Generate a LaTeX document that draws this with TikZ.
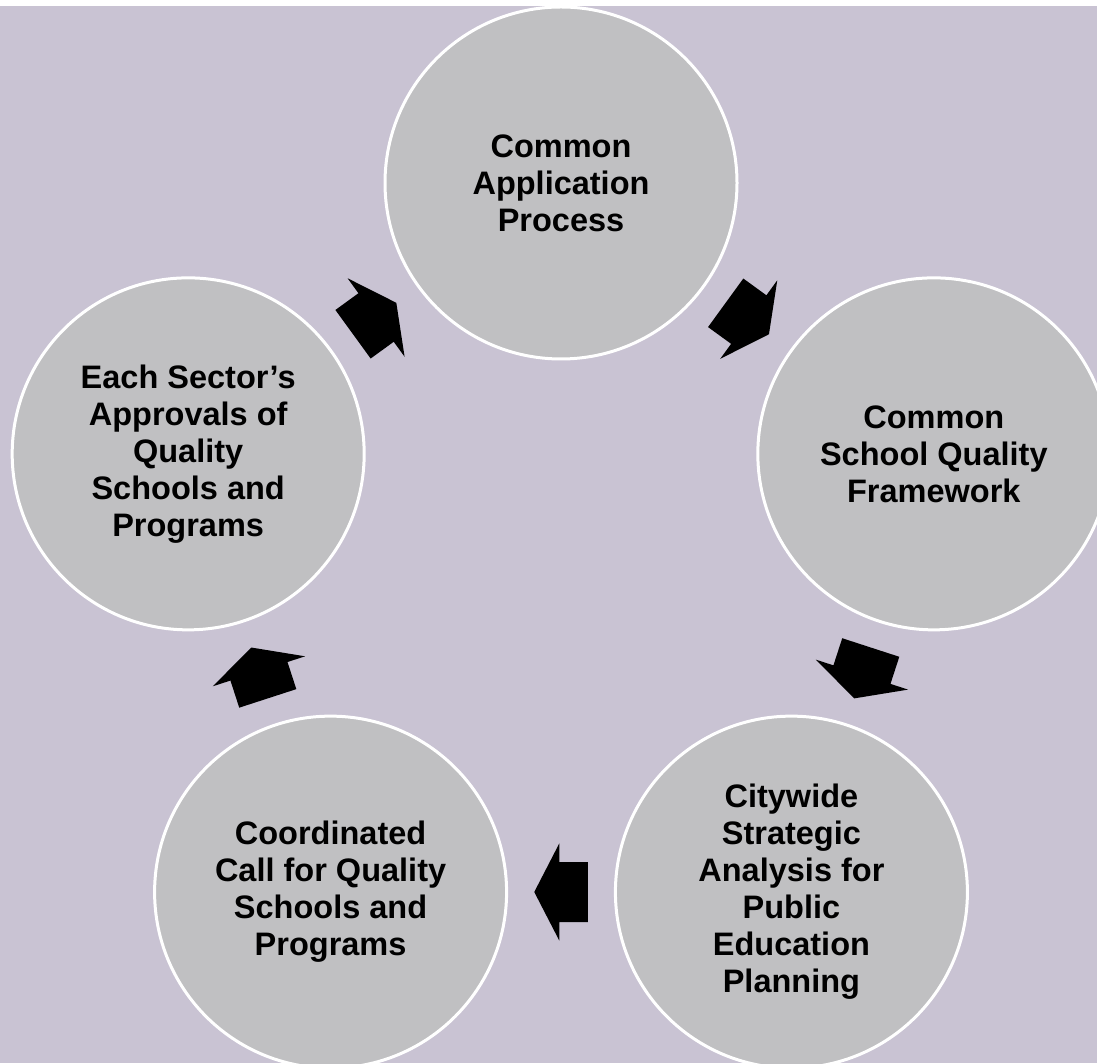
\documentclass[tikz,border=0pt]{standalone}
\usepackage{fontspec}
\setmainfont{Liberation Sans}
\definecolor{bgcol}{RGB}{201,195,211}
\definecolor{discfill}{RGB}{192,192,194}
\tikzset{
  stage/.style={circle, minimum size=352pt, inner sep=0pt, fill=discfill,
    draw=white, line width=3pt, align=center, text=black,
    font=\bfseries\fontsize{32.5}{37}\selectfont},
  cyclearrow/.pic={
    \fill[black] (-26.75,-30) -- (1.75,-30) -- (1.75,-48.5) -- (26.75,0)
      -- (1.75,48.5) -- (1.75,30) -- (-26.75,30) -- cycle;
  }
}
\begin{document}
\begin{tikzpicture}[x=1pt,y=1pt]
  \useasboundingbox (0,0) rectangle (1097,1063);
  \clip (0,0) rectangle (1097,1063);
  % page background with a thin white band along the top
  \fill[white] (0,0) rectangle (1097,1063);
  \fill[bgcol] (0,0) rectangle (1097,1057);
  \coordinate (hub) at (561,488);

  % the five stages of the cycle
  \node[stage] (apply) at ([shift={(hub)}] 90:392pt)
    {Common\\Application\\Process};
  \node[stage] (frame) at ([shift={(hub)}] 18:392pt)
    {Common\\School Quality\\Framework};
  \node[stage] (plan) at ([shift={(hub)}] -54:392pt)
    {Citywide\\Strategic\\Analysis for\\Public\\Education\\Planning};
  \node[stage] (call) at ([shift={(hub)}] -126:392pt)
    {Coordinated\\Call for Quality\\Schools and\\Programs};
  \node[stage] (approve) at ([shift={(hub)}] 162:392pt)
    {Each Sector’s\\Approvals of\\Quality\\Schools and\\Programs};

  % block arrows between consecutive stages, running clockwise
  \foreach \a in {54,-18,-90,-162,126}{
    \pic[rotate=\a-90] at ([shift={(hub)}] \a:317pt) {cyclearrow};
  }
\end{tikzpicture}
\end{document}
